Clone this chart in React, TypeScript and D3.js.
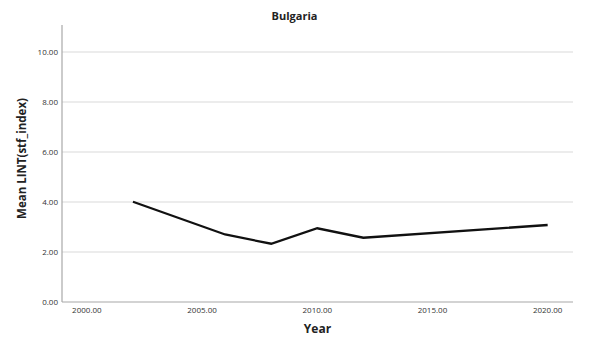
import React from "react";
import * as d3 from "d3";

const years = [2002, 2006, 2008, 2010, 2012, 2020];
const values = [4.01, 2.7, 2.33, 2.95, 2.57, 3.08];
const yTicks = [0, 2, 4, 6, 8, 10];
const xTicks = [2000, 2005, 2010, 2015, 2020];
const title = "Bulgaria";
const xLabel = "Year";
const yLabel = "Mean LINT(stf_index)";

const W = 589;
const H = 340;
const left = 62;
const right = 573;
const top = 25;
const bottom = 302;

export default function App() {
  const x = d3.scaleLinear().domain([1998.92, 2021.1]).range([left, right]);
  const y = d3.scaleLinear().domain([0, 11.08]).range([bottom, top]);
  const line = d3
    .line<number>()
    .x((_, i) => x(years[i]))
    .y((d) => y(d));
  const font = "'Open Sans', 'DejaVu Sans', sans-serif";
  return (
    <svg
      width={W}
      height={H}
      style={{ position: "absolute", left: 0, top: 0, background: "#fff" }}
      fontFamily={font}
    >
      <rect width={W} height={H} fill="#fff" />
      {yTicks.map((t) => (
        <g key={t}>
          {t > 0 && (
            <line x1={left} x2={right} y1={y(t)} y2={y(t)} stroke="#d9d9d9" strokeWidth={1} />
          )}
          <text
            x={left - 4}
            y={y(t)}
            dy="0.35em"
            textAnchor="end"
            fontSize={8}
            fill="#333"
          >
            {t.toFixed(2)}
          </text>
        </g>
      ))}
      <line x1={left} x2={right} y1={bottom} y2={bottom} stroke="#a8a8a8" strokeWidth={1.2} />
      <line x1={left} x2={left} y1={top} y2={bottom} stroke="#a8a8a8" strokeWidth={1.2} />
      {xTicks.map((t) => (
        <text
          key={t}
          x={x(t)}
          y={bottom + 10.5}
          textAnchor="middle"
          fontSize={8}
          fill="#333"
        >
          {t.toFixed(2)}
        </text>
      ))}
      <path
        d={line(values) || ""}
        fill="none"
        stroke="#111"
        strokeWidth={2.3}
        strokeLinejoin="miter"
      />
      <text x={W / 2} y={20} textAnchor="middle" fontSize={11} fontWeight="bold" fill="#222">
        {title}
      </text>
      <text
        x={(left + right) / 2}
        y={333}
        textAnchor="middle"
        fontSize={12}
        fontWeight="bold"
        fill="#222"
      >
        {xLabel}
      </text>
      <text
        transform={`translate(26, ${(top + bottom) / 2 - 5}) rotate(-90)`}
        textAnchor="middle"
        fontSize={11.5}
        fontWeight="bold"
        fill="#222"
      >
        {yLabel}
      </text>
    </svg>
  );
}
